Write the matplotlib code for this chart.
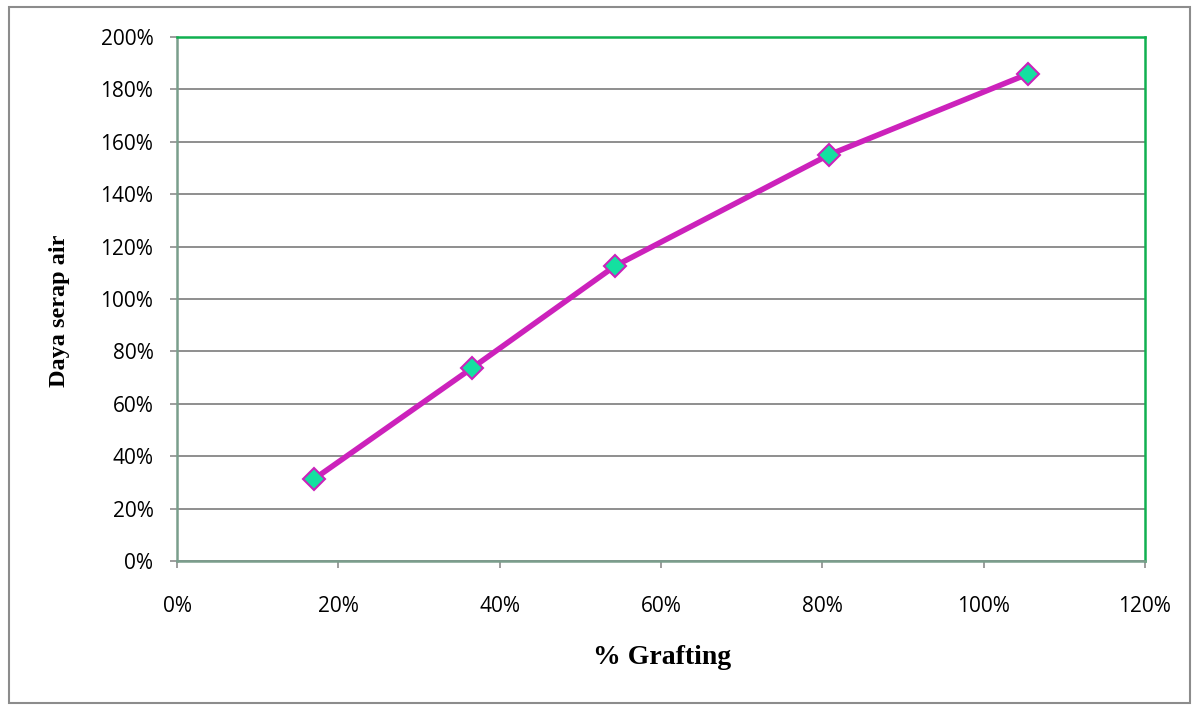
import matplotlib
matplotlib.use("Agg")
import matplotlib.pyplot as plt
from matplotlib.patches import Rectangle
from matplotlib.ticker import FuncFormatter

grafting = [17.0, 36.6, 54.3, 80.8, 105.5]
daya_serap = [31.3, 73.7, 112.6, 155.0, 185.9]
x_ticks = [0, 20, 40, 60, 80, 100, 120]
y_ticks = [0, 20, 40, 60, 80, 100, 120, 140, 160, 180, 200]

fig = plt.figure(figsize=(11.93, 7.11), dpi=100)
fig.patches.append(Rectangle((9/1193, 1-703/711), (1190-9)/1193, (703-7)/711,
                             transform=fig.transFigure, fill=False,
                             edgecolor='#8c8c8c', linewidth=1.5))
ax = fig.add_axes([177/1193, 1-561/711, (1145-177)/1193, (561-37)/711])

ax.plot(grafting, daya_serap, color='#cc22bb', linewidth=4,
        marker='D', markersize=11, markerfacecolor='#14e0a0',
        markeredgecolor='#cc22bb', markeredgewidth=1.5, zorder=3)

ax.set_xlim(0, 120)
ax.set_ylim(0, 200)
ax.set_xticks(x_ticks)
ax.set_yticks(y_ticks)
fmt = FuncFormatter(lambda v, p: f"{int(round(v))}%")
ax.xaxis.set_major_formatter(fmt)
ax.yaxis.set_major_formatter(fmt)
ax.grid(axis='y', color='#868686', linewidth=1.3)
ax.set_axisbelow(True)
for s in ['top', 'right']:
    ax.spines[s].set_color('#10b050')
    ax.spines[s].set_linewidth(1.8)
for s in ['left', 'bottom']:
    ax.spines[s].set_color('#7a9e8c')
    ax.spines[s].set_linewidth(1.8)
ax.tick_params(axis='both', direction='out', length=5, width=1.2, color='#8c8c8c',
               labelsize=15, labelcolor='black')
ax.tick_params(axis='x', pad=20)
ax.tick_params(axis='y', pad=12)
for lab in ax.get_xticklabels() + ax.get_yticklabels():
    lab.set_family('Open Sans')

ax.set_xlabel('% Grafting', family='Liberation Serif', fontweight='bold',
              fontsize=20)
ax.set_ylabel('Daya serap air', family='Liberation Serif', fontweight='bold',
              fontsize=17.5)
ax.xaxis.set_label_coords(0.501, -0.160)
ax.yaxis.set_label_coords(-0.1105, 0.477)

fig.savefig('out.png', dpi=100)
